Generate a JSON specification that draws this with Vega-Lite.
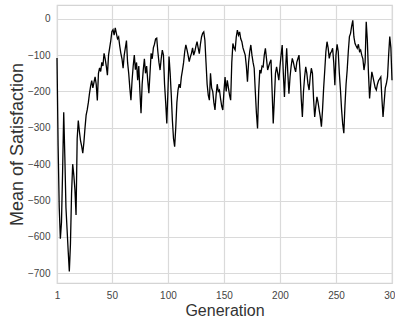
{
  "$schema": "https://vega.github.io/schema/vega-lite/v6.json",
  "width": 335,
  "height": 278,
  "autosize": {"type": "none"},
  "padding": {"left": 57, "top": 5, "right": 3, "bottom": 41},
  "background": "white",
  "config": {
    "view": {"stroke": "#d4d4d4", "strokeWidth": 1.2},
    "font": "Liberation Sans"
  },
  "data": {
    "values": [
      {"g":1,"v":-108},{"g":2,"v":-350},{"g":3,"v":-520},{"g":4,"v":-605},{"g":5,"v":-560},{"g":6,"v":-420},{"g":7,"v":-257},{"g":8,"v":-380},{"g":9,"v":-520},{"g":10,"v":-580},
      {"g":11,"v":-640},{"g":12,"v":-695},{"g":13,"v":-620},{"g":14,"v":-480},{"g":15,"v":-400},{"g":16,"v":-430},{"g":17,"v":-470},{"g":18,"v":-540},{"g":19,"v":-330},{"g":20,"v":-280},
      {"g":21,"v":-310},{"g":22,"v":-335},{"g":23,"v":-350},{"g":24,"v":-370},{"g":25,"v":-340},{"g":26,"v":-300},{"g":27,"v":-265},{"g":28,"v":-250},{"g":29,"v":-230},{"g":30,"v":-205},
      {"g":31,"v":-185},{"g":32,"v":-170},{"g":33,"v":-190},{"g":34,"v":-175},{"g":35,"v":-160},{"g":36,"v":-180},{"g":37,"v":-225},{"g":38,"v":-150},{"g":39,"v":-135},{"g":40,"v":-145},
      {"g":41,"v":-120},{"g":42,"v":-130},{"g":43,"v":-95},{"g":44,"v":-110},{"g":45,"v":-130},{"g":46,"v":-155},{"g":47,"v":-100},{"g":48,"v":-80},{"g":49,"v":-60},{"g":50,"v":-35},
      {"g":51,"v":-30},{"g":52,"v":-45},{"g":53,"v":-25},{"g":54,"v":-40},{"g":55,"v":-55},{"g":56,"v":-50},{"g":57,"v":-75},{"g":58,"v":-95},{"g":59,"v":-110},{"g":60,"v":-136},
      {"g":61,"v":-100},{"g":62,"v":-80},{"g":63,"v":-60},{"g":64,"v":-120},{"g":65,"v":-150},{"g":66,"v":-190},{"g":67,"v":-224},{"g":68,"v":-170},{"g":69,"v":-130},{"g":70,"v":-100},
      {"g":71,"v":-140},{"g":72,"v":-120},{"g":73,"v":-169},{"g":74,"v":-130},{"g":75,"v":-200},{"g":76,"v":-260},{"g":77,"v":-180},{"g":78,"v":-140},{"g":79,"v":-110},{"g":80,"v":-150},
      {"g":81,"v":-130},{"g":82,"v":-170},{"g":83,"v":-205},{"g":84,"v":-150},{"g":85,"v":-95},{"g":86,"v":-110},{"g":87,"v":-80},{"g":88,"v":-70},{"g":89,"v":-55},{"g":90,"v":-53},
      {"g":91,"v":-90},{"g":92,"v":-120},{"g":93,"v":-141},{"g":94,"v":-110},{"g":95,"v":-86},{"g":96,"v":-100},{"g":97,"v":-180},{"g":98,"v":-230},{"g":99,"v":-288},{"g":100,"v":-200},
      {"g":101,"v":-104},{"g":102,"v":-150},{"g":103,"v":-210},{"g":104,"v":-280},{"g":105,"v":-330},{"g":106,"v":-352},{"g":107,"v":-300},{"g":108,"v":-230},{"g":109,"v":-196},{"g":110,"v":-180},
      {"g":111,"v":-190},{"g":112,"v":-160},{"g":113,"v":-141},{"g":114,"v":-120},{"g":115,"v":-90},{"g":116,"v":-72},{"g":117,"v":-85},{"g":118,"v":-100},{"g":119,"v":-118},{"g":120,"v":-105},
      {"g":121,"v":-95},{"g":122,"v":-80},{"g":123,"v":-100},{"g":124,"v":-90},{"g":125,"v":-75},{"g":126,"v":-63},{"g":127,"v":-80},{"g":128,"v":-96},{"g":129,"v":-70},{"g":130,"v":-50},
      {"g":131,"v":-40},{"g":132,"v":-36},{"g":133,"v":-59},{"g":134,"v":-120},{"g":135,"v":-180},{"g":136,"v":-210},{"g":137,"v":-224},{"g":138,"v":-150},{"g":139,"v":-190},{"g":140,"v":-200},
      {"g":141,"v":-230},{"g":142,"v":-251},{"g":143,"v":-210},{"g":144,"v":-180},{"g":145,"v":-200},{"g":146,"v":-196},{"g":147,"v":-220},{"g":148,"v":-240},{"g":149,"v":-251},{"g":150,"v":-200},
      {"g":151,"v":-160},{"g":152,"v":-200},{"g":153,"v":-169},{"g":154,"v":-190},{"g":155,"v":-210},{"g":156,"v":-224},{"g":157,"v":-120},{"g":158,"v":-68},{"g":159,"v":-80},{"g":160,"v":-86},
      {"g":161,"v":-50},{"g":162,"v":-31},{"g":163,"v":-45},{"g":164,"v":-36},{"g":165,"v":-55},{"g":166,"v":-63},{"g":167,"v":-80},{"g":168,"v":-90},{"g":169,"v":-100},{"g":170,"v":-130},
      {"g":171,"v":-173},{"g":172,"v":-120},{"g":173,"v":-90},{"g":174,"v":-72},{"g":175,"v":-100},{"g":176,"v":-120},{"g":177,"v":-136},{"g":178,"v":-200},{"g":179,"v":-260},{"g":180,"v":-302},
      {"g":181,"v":-200},{"g":182,"v":-141},{"g":183,"v":-150},{"g":184,"v":-130},{"g":185,"v":-132},{"g":186,"v":-100},{"g":187,"v":-81},{"g":188,"v":-110},{"g":189,"v":-141},{"g":190,"v":-130},
      {"g":191,"v":-120},{"g":192,"v":-113},{"g":193,"v":-200},{"g":194,"v":-288},{"g":195,"v":-220},{"g":196,"v":-150},{"g":197,"v":-132},{"g":198,"v":-150},{"g":199,"v":-169},{"g":200,"v":-132},
      {"g":201,"v":-100},{"g":202,"v":-72},{"g":203,"v":-150},{"g":204,"v":-215},{"g":205,"v":-140},{"g":206,"v":-81},{"g":207,"v":-150},{"g":208,"v":-206},{"g":209,"v":-160},{"g":210,"v":-130},
      {"g":211,"v":-109},{"g":212,"v":-120},{"g":213,"v":-135},{"g":214,"v":-146},{"g":215,"v":-120},{"g":216,"v":-110},{"g":217,"v":-100},{"g":218,"v":-150},{"g":219,"v":-220},{"g":220,"v":-270},
      {"g":221,"v":-200},{"g":222,"v":-160},{"g":223,"v":-132},{"g":224,"v":-150},{"g":225,"v":-180},{"g":226,"v":-196},{"g":227,"v":-160},{"g":228,"v":-136},{"g":229,"v":-150},{"g":230,"v":-220},
      {"g":231,"v":-270},{"g":232,"v":-240},{"g":233,"v":-215},{"g":234,"v":-230},{"g":235,"v":-251},{"g":236,"v":-270},{"g":237,"v":-297},{"g":238,"v":-250},{"g":239,"v":-190},{"g":240,"v":-141},
      {"g":241,"v":-90},{"g":242,"v":-63},{"g":243,"v":-80},{"g":244,"v":-109},{"g":245,"v":-95},{"g":246,"v":-90},{"g":247,"v":-81},{"g":248,"v":-120},{"g":249,"v":-183},{"g":250,"v":-100},
      {"g":251,"v":-70},{"g":252,"v":-90},{"g":253,"v":-150},{"g":254,"v":-196},{"g":255,"v":-250},{"g":256,"v":-290},{"g":257,"v":-315},{"g":258,"v":-240},{"g":259,"v":-180},{"g":260,"v":-141},
      {"g":261,"v":-90},{"g":262,"v":-49},{"g":263,"v":-40},{"g":264,"v":-20},{"g":265,"v":-4},{"g":266,"v":-50},{"g":267,"v":-68},{"g":268,"v":-75},{"g":269,"v":-81},{"g":270,"v":-70},
      {"g":271,"v":-90},{"g":272,"v":-86},{"g":273,"v":-100},{"g":274,"v":-110},{"g":275,"v":-141},{"g":276,"v":-120},{"g":277,"v":-8},{"g":278,"v":-60},{"g":279,"v":-150},{"g":280,"v":-219},
      {"g":281,"v":-180},{"g":282,"v":-146},{"g":283,"v":-160},{"g":284,"v":-175},{"g":285,"v":-190},{"g":286,"v":-196},{"g":287,"v":-180},{"g":288,"v":-170},{"g":289,"v":-165},{"g":290,"v":-160},
      {"g":291,"v":-220},{"g":292,"v":-270},{"g":293,"v":-230},{"g":294,"v":-190},{"g":295,"v":-178},{"g":296,"v":-160},{"g":297,"v":-100},{"g":298,"v":-49},{"g":299,"v":-80},{"g":300,"v":-169}
    ]
  },
  "mark": {"type": "line", "color": "#000000", "strokeWidth": 1.3},
  "encoding": {
    "x": {
      "field": "g",
      "type": "quantitative",
      "scale": {"domain": [1, 300], "nice": false, "zero": false},
      "axis": {
        "title": "Generation",
        "values": [1, 50, 100, 150, 200, 250, 300],
        "labelFlush": false,
        "labelOverlap": false,
        "labelBound": false,
        "domain": false,
        "ticks": false,
        "labelPadding": 7,
        "labelFontSize": 10,
        "labelColor": "#444444",
        "titleFontSize": 16,
        "titleFontWeight": "normal",
        "titleColor": "#333333",
        "titlePadding": 2,
        "gridColor": "#dadada",
        "gridWidth": 1.2
      }
    },
    "y": {
      "field": "v",
      "type": "quantitative",
      "scale": {"domain": [-727, 38], "nice": false, "zero": false},
      "axis": {
        "title": "Mean of Satisfaction",
        "values": [0, -100, -200, -300, -400, -500, -600, -700],
        "labelFlush": false,
        "labelOverlap": false,
        "domain": false,
        "ticks": false,
        "labelPadding": 7,
        "labelFontSize": 10,
        "labelColor": "#444444",
        "titleFontSize": 18,
        "titleFontWeight": "normal",
        "titleColor": "#333333",
        "titlePadding": 1,
        "gridColor": "#dadada",
        "gridWidth": 1.2
      }
    }
  }
}
